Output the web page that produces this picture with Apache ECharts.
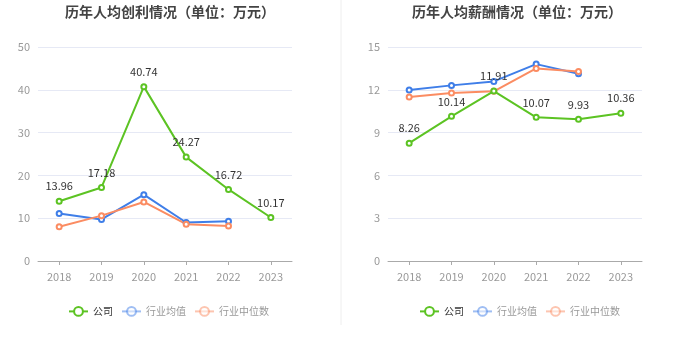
<!DOCTYPE html>
<html><head><meta charset="utf-8">
<script src="https://cdn.jsdelivr.net/npm/echarts@6/dist/echarts.min.js"></script>
<style>html,body{margin:0;padding:0;background:#fff}#c{width:680px;height:349px}</style>
</head><body><div id="c"></div>
<script>
const years = ['2018','2019','2020','2021','2022','2023'];
const profitCompany = [13.96, 17.18, 40.74, 24.27, 16.72, 10.17];
const profitAvg = [11.1, 9.7, 15.5, 9.0, 9.3, null];
const profitMedian = [8.0, 10.6, 13.8, 8.6, 8.2, null];
const salaryCompany = [8.26, 10.14, 11.91, 10.07, 9.93, 10.36];
const salaryAvg = [11.98, 12.31, 12.59, 13.8, 13.12, null];
const salaryMedian = [11.49, 11.77, 11.89, 13.5, 13.29, null];
const names = ['公司','行业均值','行业中位数'];
const colors = ['#5cc323','#3f7ee8','#fb8c62'];
const font = '"Noto Sans CJK SC", "Noto Sans", sans-serif';

const chart = echarts.init(document.getElementById('c'));
function mkSeries(data, idx, gi, label) {
  return {
    name: names[idx], type: 'line', data: data, xAxisIndex: gi, yAxisIndex: gi,
    symbol: 'emptyCircle', symbolSize: 5, showAllSymbol: true,
    lineStyle: {width: 2, color: colors[idx]},
    itemStyle: {color: colors[idx], borderWidth: 1.5},
    label: {show: label, position: 'top', color: '#333', fontSize: 11, fontFamily: font, distance: 6},
    z: label ? 3 : 2
  };
}
function legendData() {
  return names.map((n, i) => ({
    name: n,
    itemStyle: {opacity: i === 0 ? 1 : 0.5},
    lineStyle: {opacity: i === 0 ? 1 : 0.5},
    textStyle: {color: i === 0 ? '#333' : '#999'}
  }));
}
const yCommon = {
  type: 'value',
  axisLabel: {color: '#999', fontSize: 11, fontFamily: font},
  splitLine: {lineStyle: {color: '#e6e9f5'}},
  axisLine: {show: false}, axisTick: {show: false}
};
const xCommon = {
  type: 'category', data: years, boundaryGap: true,
  axisLabel: {color: '#999', fontSize: 11, fontFamily: font, margin: 10},
  axisLine: {lineStyle: {color: '#aaa'}},
  axisTick: {show: true, alignWithLabel: true, lineStyle: {color: '#aaa'}, length: 4}
};
chart.setOption({
  animation: false,
  title: [
    {text: '历年人均创利情况（单位：万元）', left: 165, textAlign: 'center', top: 0,
     textStyle: {fontSize: 14, fontWeight: 'bold', color: '#444', fontFamily: font}},
    {text: '历年人均薪酬情况（单位：万元）', left: 512, textAlign: 'center', top: 0,
     textStyle: {fontSize: 14, fontWeight: 'bold', color: '#444', fontFamily: font}}
  ],
  legend: [
    {data: legendData(), left: 63, top: 301, itemWidth: 19, itemHeight: 11, itemGap: 8,
     textStyle: {fontSize: 10, fontFamily: font}},
    {data: legendData(), left: 414, top: 301, itemWidth: 19, itemHeight: 11, itemGap: 8,
     textStyle: {fontSize: 10, fontFamily: font}}
  ],
  grid: [
    {left: 38, top: 47, width: 254, height: 214},
    {left: 388, top: 47, width: 254, height: 214}
  ],
  xAxis: [Object.assign({gridIndex: 0}, xCommon), Object.assign({gridIndex: 1}, xCommon)],
  yAxis: [
    Object.assign({gridIndex: 0, min: 0, max: 50, interval: 10}, yCommon),
    Object.assign({gridIndex: 1, min: 0, max: 15, interval: 3}, yCommon)
  ],
  graphic: [{type: 'line', shape: {x1: 341, y1: 0, x2: 341, y2: 325}, style: {stroke: '#eee', lineWidth: 1}}],
  series: [
    mkSeries(profitAvg, 1, 0, false),
    mkSeries(profitMedian, 2, 0, false),
    mkSeries(profitCompany, 0, 0, true),
    mkSeries(salaryAvg, 1, 1, false),
    mkSeries(salaryMedian, 2, 1, false),
    mkSeries(salaryCompany, 0, 1, true)
  ]
});
</script></body></html>
